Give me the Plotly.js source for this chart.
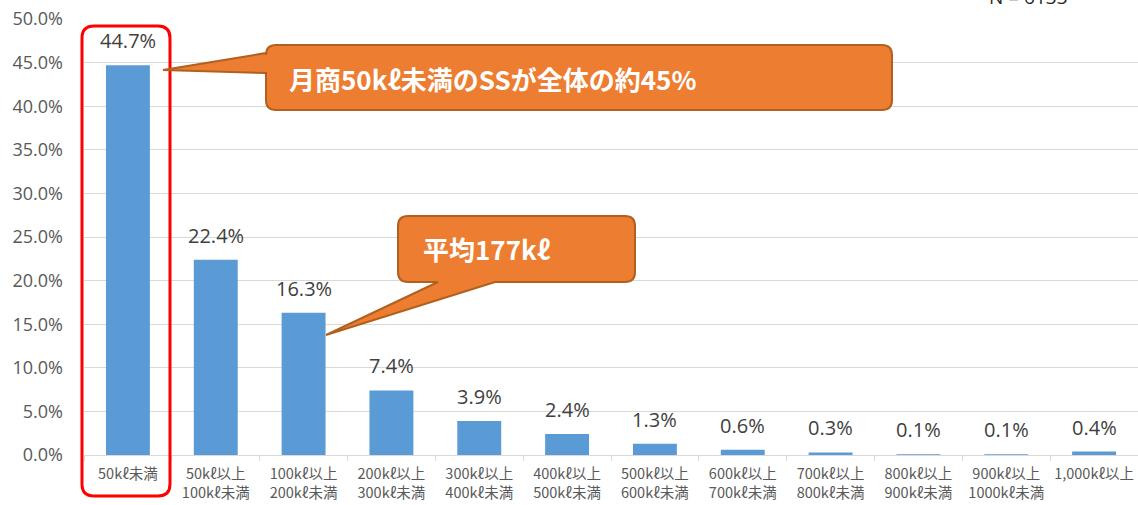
<!DOCTYPE html>
<html>
<head>
<meta charset="utf-8">
<script src="https://cdn.plot.ly/plotly-3.0.1.min.js"></script>
<style>html,body{margin:0;padding:0;background:#fff;}#chart{width:1138px;height:505px;}</style>
</head>
<body>
<div id="chart"></div>
<script>
const categories = ["50kℓ未満","50kℓ以上<br>100kℓ未満","100kℓ以上<br>200kℓ未満","200kℓ以上<br>300kℓ未満","300kℓ以上<br>400kℓ未満","400kℓ以上<br>500kℓ未満","500kℓ以上<br>600kℓ未満","600kℓ以上<br>700kℓ未満","700kℓ以上<br>800kℓ未満","800kℓ以上<br>900kℓ未満","900kℓ以上<br>1000kℓ未満","1,000kℓ以上"];
const shares = [44.7, 22.4, 16.3, 7.4, 3.9, 2.4, 1.3, 0.6, 0.3, 0.1, 0.1, 0.4];
const yTicks = [0,5,10,15,20,25,30,35,40,45,50];
const calloutMain = "月商50kℓ未満のSSが全体の約45%";
const calloutAvg = "平均177kℓ";
const sampleNote = "N = 6133";

const W = 1138, H = 505;
const M = {l: 84, r: 0, t: 19, b: 50};
const PW = W - M.l - M.r, PH = H - M.t - M.b;
const px = x => (x - M.l) / PW;
const py = y => (H - M.b - y) / PH;
const P = (x, y) => px(x).toFixed(5) + "," + py(y).toFixed(5);

function roundRect(x0, y0, x1, y1, r, pointer) {
  let d = "M" + P(x0 + r, y0);
  d += " L" + P(x1 - r, y0) + " Q" + P(x1, y0) + " " + P(x1, y0 + r);
  d += " L" + P(x1, y1 - r) + " Q" + P(x1, y1) + " " + P(x1 - r, y1);
  if (pointer && pointer.side === "bottom") {
    d += " L" + P(pointer.b, y1) + " L" + P(pointer.tx, pointer.ty) + " L" + P(pointer.a, y1);
  }
  d += " L" + P(x0 + r, y1) + " Q" + P(x0, y1) + " " + P(x0, y1 - r);
  if (pointer && pointer.side === "left") {
    d += " L" + P(x0, pointer.b) + " L" + P(pointer.tx, pointer.ty) + " L" + P(x0, pointer.a);
  }
  d += " L" + P(x0, y0 + r) + " Q" + P(x0, y0) + " " + P(x0 + r, y0) + " Z";
  return d;
}

const trace = {
  type: "bar",
  x: categories,
  y: shares,
  marker: {color: "#5B9BD5"},
  hoverinfo: "skip"
};

const labelAnns = categories.map((c, i) => ({
  x: c, y: shares[i], xref: "x", yref: "y",
  text: shares[i].toFixed(1) + "%",
  showarrow: false, yanchor: "bottom", yshift: 9,
  font: {family: "Open Sans, Noto Sans, sans-serif", size: 20, color: "#404040"}
}));

const calloutFont = "Noto Sans CJK JP, sans-serif";

const layout = {
  width: W, height: H,
  margin: M,
  paper_bgcolor: "#fff", plot_bgcolor: "#fff",
  showlegend: false,
  bargap: 0.5,
  xaxis: {
    type: "category",
    tickson: "boundaries",
    ticks: "outside", ticklen: 5, tickcolor: "#d9d9d9",
    showline: true, linecolor: "#d9d9d9", linewidth: 1,
    showgrid: false,
    tickangle: 0,
    ticklabelstandoff: 6,
    tickfont: {family: "Noto Sans CJK JP, sans-serif", size: 14.5, color: "#595959"},
    fixedrange: true
  },
  yaxis: {
    range: [0, 50],
    tickvals: yTicks,
    ticktext: yTicks.map(v => v.toFixed(1) + "%"),
    showgrid: true, gridcolor: "#d9d9d9", gridwidth: 1,
    zeroline: false, showline: false,
    ticks: "", ticklabelstandoff: 20,
    tickfont: {family: "Open Sans, Noto Sans, sans-serif", size: 18, color: "#595959"},
    fixedrange: true
  },
  shapes: [
    {type: "path", xref: "paper", yref: "paper",
     path: roundRect(82, 26, 170, 496, 12),
     line: {color: "#FF0000", width: 3}, fillcolor: "rgba(0,0,0,0)"},
    {type: "path", xref: "paper", yref: "paper",
     path: roundRect(266, 45, 892, 110, 10, {side: "left", a: 53, b: 73, tx: 163, ty: 70}),
     line: {color: "#B0601F", width: 2}, fillcolor: "#ED7D31"},
    {type: "path", xref: "paper", yref: "paper",
     path: roundRect(398, 216, 635, 282, 10, {side: "bottom", a: 438, b: 495, tx: 326, ty: 335}),
     line: {color: "#B0601F", width: 2}, fillcolor: "#ED7D31"}
  ],
  annotations: labelAnns.concat([
    {xref: "paper", yref: "paper", x: px(287), y: py(79), xanchor: "left", yanchor: "middle",
     text: "<b>" + calloutMain + "</b>", showarrow: false,
     font: {family: calloutFont, size: 26, color: "#fff"}},
    {xref: "paper", yref: "paper", x: px(421), y: py(248), xanchor: "left", yanchor: "middle",
     text: "<b>" + calloutAvg + "</b>", showarrow: false,
     font: {family: calloutFont, size: 26, color: "#fff"}},
    {xref: "paper", yref: "paper", x: px(1028), y: py(12), xanchor: "center", yanchor: "bottom",
     text: sampleNote, showarrow: false,
     font: {family: "Open Sans, Noto Sans, sans-serif", size: 19, color: "#262626"}}
  ])
};

Plotly.newPlot("chart", [trace], layout, {displayModeBar: false, staticPlot: true});
</script>
</body>
</html>
